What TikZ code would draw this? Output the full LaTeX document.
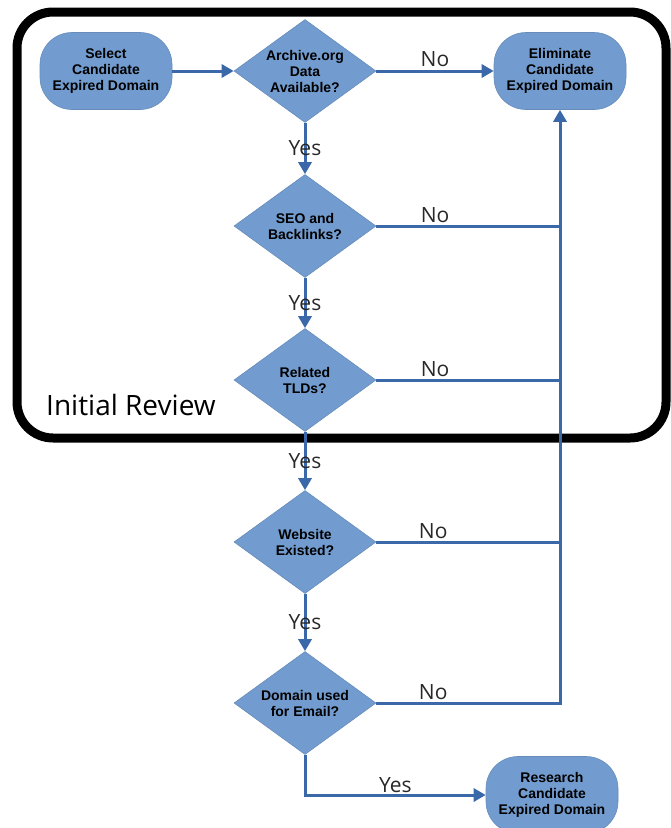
\documentclass[tikz,border=0pt]{standalone}
\usepackage{fontspec}
\setmainfont{Liberation Sans}
\newfontfamily\labfont{Open Sans}
\usetikzlibrary{shapes.geometric,arrows.meta}
\definecolor{nfill}{RGB}{114,156,207}
\definecolor{nline}{RGB}{58,104,168}
\definecolor{labgray}{RGB}{40,40,40}
\begin{document}
\begin{tikzpicture}[x=1pt,y=-1pt,
  every node/.style={inner sep=0pt},
  term/.style={rectangle, rounded corners=32pt, fill=nfill, draw=nfill!90!black, line width=0.6pt,
    minimum width=132pt, minimum height=77pt, align=center,
    font=\fontsize{14}{16}\selectfont\bfseries},
  dec/.style={diamond, fill=nfill, draw=nfill!90!black, line width=0.6pt, inner sep=-14pt,
    minimum width=142pt, minimum height=103pt, align=center,
    font=\fontsize{14}{16}\selectfont\bfseries},
  conn/.style={draw=nline, line width=3pt},
  arr/.style={conn, -{Triangle[length=12pt,width=13pt]}},
  lab/.style={font=\labfont\fontsize{21}{21}\selectfont, text=labgray}
]
\useasboundingbox (0,0) rectangle (670,828);
% Initial review frame
\draw[line width=9pt, rounded corners=36pt] (17,12) rectangle (666,438);
\node[font=\labfont\fontsize{28}{28}\selectfont, anchor=west] (irl) at (46,405) {Initial Review};

% nodes
\node[term] (sel) at (106,71) {Select\\Candidate\\Expired Domain};
\node[dec] (d1) at (305,71) {Archive.org\\Data\\Available?};
\node[term] (elim) at (560,71) {Eliminate\\Candidate\\Expired Domain};
\node[dec] (d2) at (305,226) {SEO and\\Backlinks?};
\node[dec] (d3) at (305,380) {Related\\TLDs?};
\node[dec] (d4) at (305,542) {Website\\Existed?};
\node[dec] (d5) at (305,703) {Domain used\\for Email?};
\node[term] (res) at (552,795) {Research\\Candidate\\Expired Domain};

% connectors
\draw[arr] (sel.east) -- (d1.west);
\draw[arr] (d1.east) -- (elim.west) node[lab, midway, above=3pt] {No};
\draw[arr] (d1.south) -- (d2.north) node[lab, midway] {Yes};
\draw[arr] (d2.south) -- (d3.north) node[lab, midway] {Yes};
\draw[arr] (d3.south) -- (d4.north) node[lab, midway] {Yes};
\draw[arr] (d4.south) -- (d5.north) node[lab, midway] {Yes};
\draw[arr] (d5.south) |- (res.west) node[lab, pos=0.75, above=1pt] {Yes};

\draw[conn] (d2.east) -- (d2.east -| elim.south) node[lab, pos=0.32, above=2pt] {No};
\draw[conn] (d3.east) -- (d3.east -| elim.south) node[lab, pos=0.32, above=2pt] {No};
\draw[conn] (d4.east) -- (d4.east -| elim.south) node[lab, pos=0.31, above=2pt] {No};
\draw[conn] (d5.east) -- (d5.east -| elim.south) node[lab, pos=0.31, above=2pt] {No};
\draw[arr, line cap=rect] (d5.east -| elim.south) -- (elim.south);
\end{tikzpicture}
\end{document}
